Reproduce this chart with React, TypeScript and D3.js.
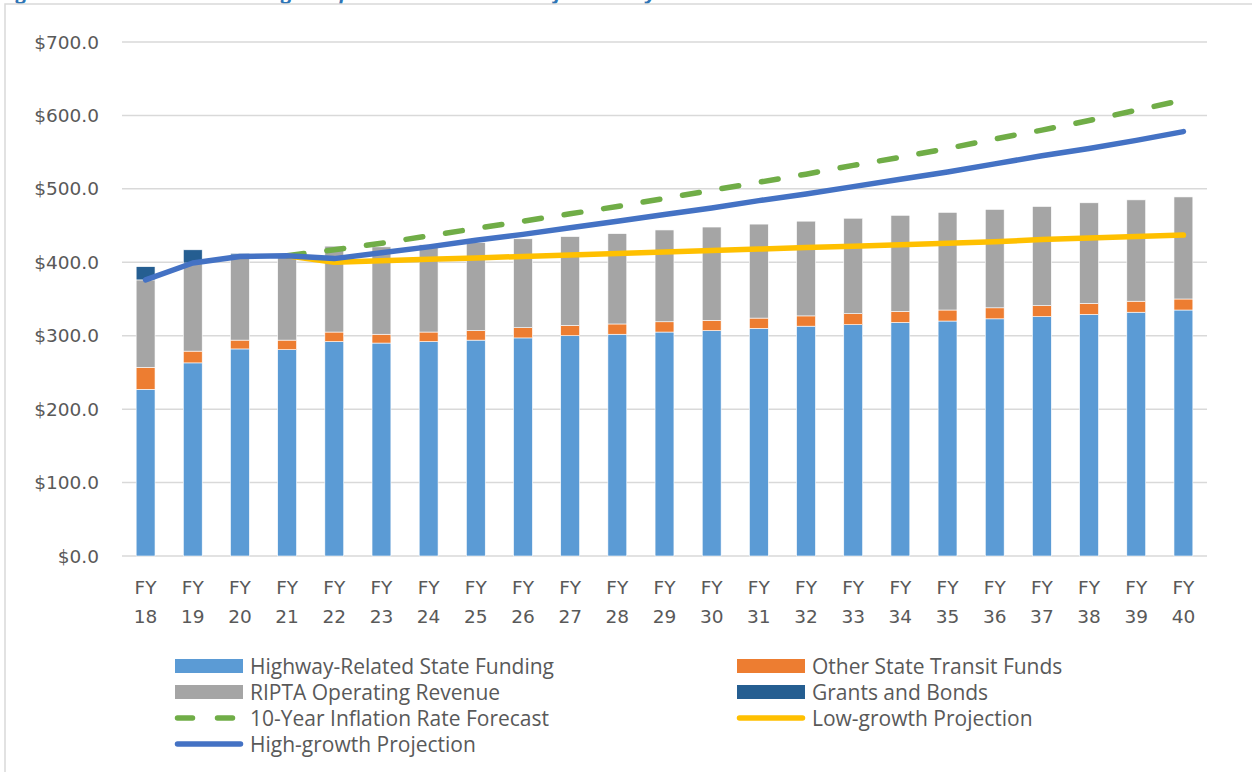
import React, { useEffect, useRef } from 'react';
import * as d3 from 'd3';

const YEARS = ['18', '19', '20', '21', '22', '23', '24', '25', '26', '27', '28', '29', '30', '31', '32', '33', '34', '35', '36', '37', '38', '39', '40'];

const highway = [227, 263, 282, 281, 292, 290, 292, 294, 297, 300, 302, 305, 307, 310, 313, 315, 318, 320, 323, 326, 329, 332, 335];
const otherTransit = [30, 16, 12, 13, 13, 12, 13, 13, 14, 14, 14, 14, 14, 14, 14, 15, 15, 15, 15, 15, 15, 15, 15];
const ripta = [119, 120, 116, 116, 117, 119, 119, 120, 121, 121, 123, 125, 127, 128, 129, 130, 131, 133, 134, 135, 137, 138, 139];
const grants = [18, 18, 2, 0, 0, 0, 0, 0, 0, 0, 0, 0, 0, 0, 0, 0, 0, 0, 0, 0, 0, 0, 0];

const inflation = [null, null, null, 409, 417, 426, 436, 446, 456, 466, 476, 487, 498, 509, 520, 532, 543, 555, 568, 580, 593, 607, 621];
const lowGrowth = [null, null, null, 409, 400, 402, 404, 406, 408, 410, 412, 414, 416, 418, 420, 422, 424, 426, 428, 431, 433, 435, 437];
const highGrowth = [376, 399, 408, 409, 405, 413, 421, 430, 438, 447, 456, 465, 474, 484, 493, 503, 513, 523, 534, 545, 555, 566, 578];

const Y_TICKS = [0, 100, 200, 300, 400, 500, 600, 700];

const BAR_KEYS = ['highway', 'other', 'ripta', 'grants'];
const BAR_COLORS = { highway: '#5B9BD5', other: '#ED7D31', ripta: '#A5A5A5', grants: '#255E91' };

const TICK_FONT = '"DejaVu Sans", Verdana, sans-serif';
const LEGEND_FONT = '"Open Sans", "Liberation Sans", sans-serif';
const TEXT_COLOR = '#595959';

export default function App() {
  const svgRef = useRef<SVGSVGElement | null>(null);

  useEffect(() => {
    const svgEl = svgRef.current;
    if (!svgEl) return;
    const svg = d3.select(svgEl);
    svg.selectAll('*').remove();

    const left = 122;
    const right = 1207;
    const top = 42;
    const bottom = 556;

    const x = d3.scaleBand().domain(YEARS).range([left, right]).paddingInner(0.6).paddingOuter(0.3);
    const y = d3.scaleLinear().domain([0, 700]).range([bottom, top]);

    // title (mostly cropped off the top, like the source page)
    svg.append('text')
      .attr('x', 0)
      .attr('y', -1)
      .attr('fill', '#2E75B6')
      .attr('font-family', '"Open Sans", sans-serif')
      .attr('font-size', 20)
      .attr('font-weight', 'bold')
      .attr('font-style', 'italic')
      .text('Figure 9: RIPTA Transit Funding Compared with Growth Projections by Fiscal Year');

    // chart frame
    svg.append('rect')
      .attr('x', 5).attr('y', 4)
      .attr('width', 1400).attr('height', 900)
      .attr('fill', '#fff')
      .attr('stroke', '#D9D9D9')
      .attr('stroke-width', 1.5);

    // gridlines
    svg.append('g')
      .selectAll('line')
      .data(Y_TICKS)
      .enter()
      .append('line')
      .attr('x1', left).attr('x2', right)
      .attr('y1', d => y(d)).attr('y2', d => y(d))
      .attr('stroke', '#D9D9D9')
      .attr('stroke-width', 1.5);

    // y labels
    svg.append('g')
      .selectAll('text')
      .data(Y_TICKS)
      .enter()
      .append('text')
      .attr('x', 99)
      .attr('y', d => y(d) + 6.5)
      .attr('text-anchor', 'end')
      .attr('fill', TEXT_COLOR)
      .attr('font-family', TICK_FONT)
      .attr('font-size', 18.5)
      .text(d => '$' + d3.format('.1f')(d));

    // stacked bars
    const rows = YEARS.map((yr, i) => ({
      year: yr,
      highway: highway[i],
      other: otherTransit[i],
      ripta: ripta[i],
      grants: grants[i],
    }));
    const stacked = d3.stack<any>().keys(BAR_KEYS)(rows);

    svg.append('g')
      .selectAll('g')
      .data(stacked)
      .enter()
      .append('g')
      .attr('fill', d => BAR_COLORS[d.key])
      .selectAll('rect')
      .data(d => d.filter(s => s[1] - s[0] > 0))
      .enter()
      .append('rect')
      .attr('x', d => x(d.data.year)!)
      .attr('width', x.bandwidth())
      .attr('y', d => y(d[1]))
      .attr('height', d => y(d[0]) - y(d[1]))
      .attr('stroke', '#fff')
      .attr('stroke-width', 0.6);

    // lines
    const cx = (i: number) => x(YEARS[i])! + x.bandwidth() / 2;
    const lineGen = d3.line<number | null>()
      .defined(d => d != null)
      .x((_, i) => cx(i))
      .y(d => y(d as number));

    const lines = [
      { data: inflation, color: '#70AD47', dash: '17 23' },
      { data: lowGrowth, color: '#FFC000', dash: null },
      { data: highGrowth, color: '#4472C4', dash: null },
    ];
    lines.forEach(l => {
      svg.append('path')
        .attr('d', lineGen(l.data))
        .attr('fill', 'none')
        .attr('stroke', l.color)
        .attr('stroke-width', 5.5)
        .attr('stroke-linecap', 'round')
        .attr('stroke-linejoin', 'round')
        .attr('stroke-dasharray', l.dash);
    });

    // x labels
    const xl = svg.append('g')
      .selectAll('g')
      .data(YEARS)
      .enter()
      .append('g');
    xl.append('text')
      .attr('x', d => x(d)! + x.bandwidth() / 2)
      .attr('y', 594)
      .attr('text-anchor', 'middle')
      .attr('fill', TEXT_COLOR)
      .attr('font-family', TICK_FONT)
      .attr('font-size', 18.5)
      .text('FY');
    xl.append('text')
      .attr('x', d => x(d)! + x.bandwidth() / 2)
      .attr('y', 623)
      .attr('text-anchor', 'middle')
      .attr('fill', TEXT_COLOR)
      .attr('font-family', TICK_FONT)
      .attr('font-size', 18.5)
      .text(d => d);

    // legend
    const legend = [
      { label: 'Highway-Related State Funding', type: 'box', color: BAR_COLORS.highway, col: 0, row: 0 },
      { label: 'Other State Transit Funds', type: 'box', color: BAR_COLORS.other, col: 1, row: 0 },
      { label: 'RIPTA Operating Revenue', type: 'box', color: BAR_COLORS.ripta, col: 0, row: 1 },
      { label: 'Grants and Bonds', type: 'box', color: BAR_COLORS.grants, col: 1, row: 1 },
      { label: '10-Year Inflation Rate Forecast', type: 'dash', color: '#70AD47', col: 0, row: 2 },
      { label: 'Low-growth Projection', type: 'line', color: '#FFC000', col: 1, row: 2 },
      { label: 'High-growth Projection', type: 'line', color: '#4472C4', col: 0, row: 3 },
    ];
    const colX = [175, 737];
    const lg = svg.append('g')
      .selectAll('g')
      .data(legend)
      .enter()
      .append('g')
      .attr('transform', d => `translate(${colX[d.col]},${666 + d.row * 26})`);

    lg.filter(d => d.type === 'box')
      .append('rect')
      .attr('x', 0).attr('y', -7)
      .attr('width', 68).attr('height', 14)
      .attr('fill', d => d.color);

    lg.filter(d => d.type !== 'box')
      .append('line')
      .attr('x1', 2.5).attr('x2', 65.5)
      .attr('y1', 0).attr('y2', 0)
      .attr('stroke', d => d.color)
      .attr('stroke-width', 5.5)
      .attr('stroke-linecap', 'round')
      .attr('stroke-dasharray', d => (d.type === 'dash' ? '15 25' : null));

    lg.append('text')
      .attr('x', 75)
      .attr('y', 7.5)
      .attr('fill', TEXT_COLOR)
      .attr('font-family', LEGEND_FONT)
      .attr('font-size', 21)
      .text(d => d.label);
  }, []);

  return (
    <svg
      ref={svgRef}
      width={1252}
      height={772}
      style={{ position: 'absolute', left: 0, top: 0, display: 'block', background: '#fff' }}
    />
  );
}
